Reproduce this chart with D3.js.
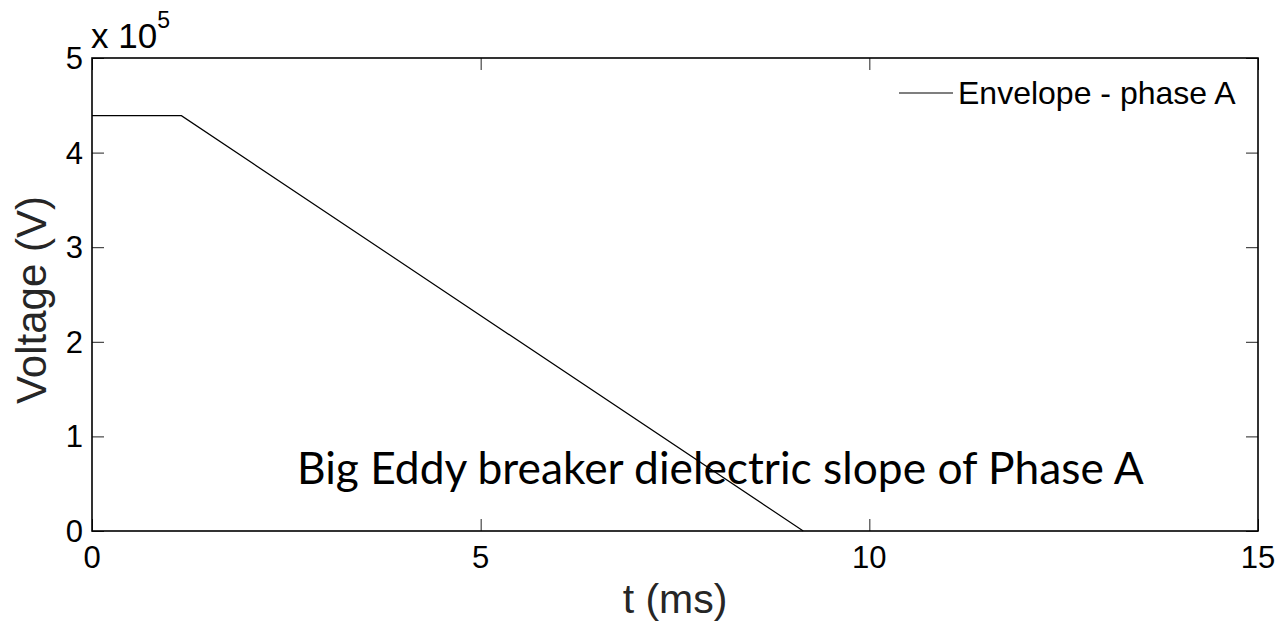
<!DOCTYPE html>
<html>
<head>
<meta charset="utf-8">
<script src="https://cdn.jsdelivr.net/npm/d3@7"></script>
<style>
  html, body { margin: 0; padding: 0; background: #fff; }
  svg { display: block; }
</style>
</head>
<body>
<svg id="chart" width="1280" height="624"></svg>
<script>
// Envelope of the breaker dielectric strength, phase A
const timeMs = [0, 1.15, 9.15];
const voltage = [4.39e5, 4.39e5, 0];

const xTicks = [0, 5, 10, 15];
const yTicks = [0, 1, 2, 3, 4, 5];       // in units of 1e5 V
const yExponent = 5;

const seriesName = "Envelope - phase A";
const annotation = "Big Eddy breaker dielectric slope of Phase A";

const W = 1280, H = 624;
const margin = { left: 92, right: 22, top: 58, bottom: 93 };

const svg = d3.select("#chart");

const x = d3.scaleLinear().domain([0, 15]).range([margin.left, W - margin.right]);
const y = d3.scaleLinear().domain([0, 5e5]).range([H - margin.bottom, margin.top]);

const x0 = x.range()[0], x1 = x.range()[1];
const y0 = y.range()[0], y1 = y.range()[1];

const tickFont = "'Liberation Sans', Arial, sans-serif";
const tickLen = 12;

// Data line
const line = d3.line().x((d, i) => x(timeMs[i])).y(d => y(d));
svg.append("path")
  .datum(voltage)
  .attr("d", line)
  .attr("fill", "none")
  .attr("stroke", "#000")
  .attr("stroke-width", 1.2);

// Inward ticks on all four sides
const g = svg.append("g");
g.append("g")
  .attr("transform", `translate(0,${y0})`)
  .call(d3.axisTop(x).tickValues(xTicks).tickSize(tickLen).tickFormat(""))
  .call(s => s.select(".domain").remove());
g.append("g")
  .attr("transform", `translate(0,${y1})`)
  .call(d3.axisBottom(x).tickValues(xTicks).tickSize(tickLen).tickFormat(""))
  .call(s => s.select(".domain").remove());
g.append("g")
  .attr("transform", `translate(${x0},0)`)
  .call(d3.axisRight(y).tickValues(yTicks.map(v => v * 1e5)).tickSize(tickLen).tickFormat(""))
  .call(s => s.select(".domain").remove());
g.append("g")
  .attr("transform", `translate(${x1},0)`)
  .call(d3.axisLeft(y).tickValues(yTicks.map(v => v * 1e5)).tickSize(tickLen).tickFormat(""))
  .call(s => s.select(".domain").remove());
g.selectAll(".tick line").attr("stroke", "#222").attr("stroke-width", 1);

// Axes box
svg.append("rect")
  .attr("x", x0).attr("y", y1)
  .attr("width", x1 - x0).attr("height", y0 - y1)
  .attr("fill", "none")
  .attr("stroke", "#000")
  .attr("stroke-width", 1.6);

// Tick labels
svg.append("g").selectAll("text")
  .data(xTicks)
  .join("text")
  .attr("x", d => x(d))
  .attr("y", y0 + 37)
  .attr("text-anchor", "middle")
  .attr("font-family", tickFont)
  .attr("font-size", 31)
  .attr("fill", "#000")
  .text(d => d);

svg.append("g").selectAll("text")
  .data(yTicks)
  .join("text")
  .attr("x", x0 - 9)
  .attr("y", d => y(d * 1e5) + 11)
  .attr("text-anchor", "end")
  .attr("font-family", tickFont)
  .attr("font-size", 31)
  .attr("fill", "#000")
  .text(d => d);

// Exponent label
const ex = svg.append("text")
  .attr("x", x0 - 1)
  .attr("y", 48)
  .attr("font-family", tickFont)
  .attr("font-size", 35)
  .attr("fill", "#000");
ex.append("tspan").text("x 10");
ex.append("tspan")
  .attr("font-size", 23)
  .attr("dy", -20)
  .attr("dx", 0)
  .text(yExponent);

// Axis titles
svg.append("text")
  .attr("x", (x0 + x1) / 2)
  .attr("y", 613)
  .attr("text-anchor", "middle")
  .attr("font-family", tickFont)
  .attr("font-size", 41)
  .attr("fill", "#262626")
  .text("t (ms)");

svg.append("text")
  .attr("transform", `translate(46,300) rotate(-90)`)
  .attr("text-anchor", "middle")
  .attr("font-family", tickFont)
  .attr("font-size", 42)
  .attr("fill", "#262626")
  .text("Voltage (V)");

// Legend (no box)
const legY = 93;
svg.append("line")
  .attr("x1", 899).attr("x2", 953)
  .attr("y1", legY).attr("y2", legY)
  .attr("stroke", "#000").attr("stroke-width", 1.2);
svg.append("text")
  .attr("x", 958)
  .attr("y", legY + 11)
  .attr("font-family", tickFont)
  .attr("font-size", 32)
  .attr("fill", "#000")
  .text(seriesName);

// Annotation
svg.append("text")
  .attr("x", 297)
  .attr("y", 484)
  .attr("font-family", "Lato, 'Open Sans', sans-serif")
  .attr("font-size", 44.3)
  .attr("fill", "#000")
  .text(annotation);
</script>
</body>
</html>
